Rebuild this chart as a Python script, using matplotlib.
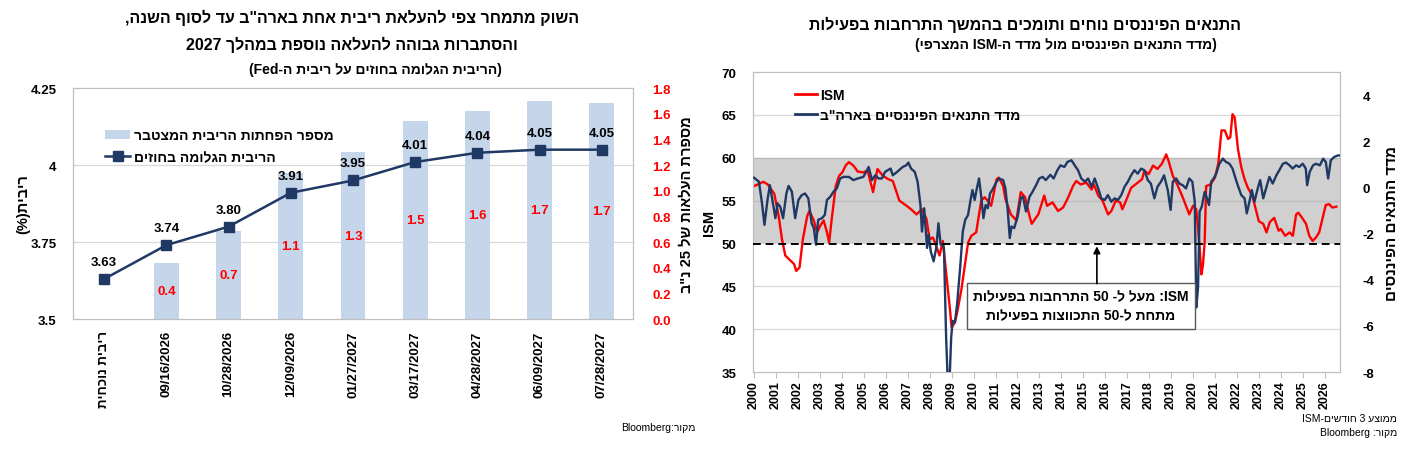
import re
import matplotlib
matplotlib.use('Agg')
import matplotlib.pyplot as plt
from matplotlib.patches import Patch
from matplotlib.lines import Line2D
from matplotlib.transforms import blended_transform_factory

plt.rcParams['font.family'] = ['DejaVu Sans Condensed', 'Liberation Sans', 'DejaVu Sans']
plt.rcParams['font.weight'] = 'bold'
plt.rcParams['axes.unicode_minus'] = False


# hebrew -> visual order (matplotlib has no bidi)
def rtl(s):
    v = s[::-1].translate(str.maketrans('()', ')('))
    return re.sub(r'[A-Za-z0-9.%]+', lambda m: m.group(0)[::-1], v)


# ---- left chart data ----
categories = ['ריבית נוכחית', '09/16/2026', '10/28/2026', '12/09/2026', '01/27/2027',
              '03/17/2027', '04/28/2027', '06/09/2027', '07/28/2027']
implied_rate = [3.63, 3.74, 3.80, 3.91, 3.95, 4.01, 4.04, 4.05, 4.05]
hikes = [0.44, 0.69, 1.14, 1.30, 1.54, 1.62, 1.70, 1.68]   # from 09/16/2026 on

# ---- right chart data (decimal years) ----
ism_t = [2000.0, 2000.42, 2000.62, 2000.92, 2001.12, 2001.27, 2001.42, 2001.62, 2001.82, 2001.92,
         2002.07, 2002.22, 2002.42, 2002.52, 2002.72, 2002.87, 2003.02, 2003.17, 2003.32, 2003.42,
         2003.52, 2003.72, 2003.87, 2004.02, 2004.17, 2004.32, 2004.52, 2004.72, 2004.97, 2005.17,
         2005.42, 2005.62, 2005.87, 2006.12, 2006.32, 2006.62, 2006.95, 2007.15, 2007.4, 2007.65,
         2007.85, 2008.0, 2008.15, 2008.3, 2008.45, 2008.6, 2008.75, 2008.91, 2009.0, 2009.15,
         2009.25, 2009.45, 2009.6, 2009.75, 2009.9, 2010.12, 2010.35, 2010.5, 2010.65, 2010.8,
         2011.05, 2011.15, 2011.35, 2011.45, 2011.7, 2011.95, 2012.15, 2012.35, 2012.55, 2012.65,
         2012.95, 2013.22, 2013.35, 2013.6, 2013.85, 2014.08, 2014.28, 2014.53, 2014.68, 2014.88,
         2015.14, 2015.38, 2015.48, 2015.68, 2015.88, 2016.13, 2016.28, 2016.48, 2016.68, 2016.78,
         2016.98, 2017.18, 2017.38, 2017.68, 2017.78, 2017.98, 2018.18, 2018.38, 2018.58, 2018.78,
         2018.88, 2019.08, 2019.28, 2019.53, 2019.68, 2019.83, 2020.0, 2020.15, 2020.3, 2020.38,
         2020.45, 2020.53, 2020.6, 2020.8, 2021.0, 2021.15, 2021.3, 2021.45, 2021.6, 2021.7,
         2021.8, 2021.9, 2022.05, 2022.2, 2022.35, 2022.5, 2022.7, 2022.9, 2023.0, 2023.2,
         2023.35, 2023.5, 2023.7, 2023.9, 2024.0, 2024.2, 2024.4, 2024.55, 2024.7, 2024.8,
         2025.0, 2025.15, 2025.3, 2025.45, 2025.6, 2025.75, 2025.9, 2026.05, 2026.2, 2026.35,
         2026.53]
ism_v = [56.7, 57.2, 56.9, 55.8, 53.2, 50.5, 48.6, 48.1, 47.6, 46.8,
         47.2, 50.5, 53.2, 53.8, 52.7, 51.3, 52.1, 52.7, 51.3, 50.1,
         52.5, 56.7, 57.9, 58.3, 59.1, 59.5, 59.1, 58.4, 58.3, 58.5,
         56.0, 58.7, 57.9, 57.5, 57.3, 55.0, 54.4, 54.0, 53.4, 54.0,
         52.9, 50.5, 50.7, 49.7, 48.6, 50.3, 46.6, 42.7, 40.2, 40.8,
         41.9, 44.7, 47.4, 50.1, 50.9, 51.3, 55.0, 55.4, 55.0, 54.4,
         57.5, 57.7, 56.7, 55.2, 53.4, 52.7, 56.0, 55.4, 53.2, 52.3,
         53.4, 55.6, 54.4, 54.8, 53.8, 54.2, 55.2, 56.7, 57.3, 56.9,
         57.1, 56.3, 56.9, 55.6, 55.0, 53.4, 53.8, 55.0, 54.8, 54.0,
         55.2, 56.5, 56.9, 57.5, 58.5, 58.1, 59.1, 58.7, 59.3, 60.4,
         59.7, 57.9, 56.9, 55.4, 54.4, 53.4, 54.4, 54.0, 49.7, 46.4,
         47.4, 50.1, 56.7, 56.9, 57.7, 59.3, 63.2, 63.2, 62.2, 62.4,
         65.1, 64.7, 61.0, 58.9, 57.5, 56.5, 55.6, 53.6, 52.6, 52.3,
         51.3, 52.5, 53.0, 51.5, 51.7, 50.9, 51.3, 50.9, 53.4, 53.6,
         52.9, 52.3, 50.9, 50.3, 50.7, 51.3, 52.9, 54.5, 54.6, 54.2,
         54.3]

fci_t = [2000.0, 2000.22, 2000.37, 2000.47, 2000.62, 2000.72, 2000.82, 2000.97, 2001.07, 2001.19,
         2001.32, 2001.47, 2001.57, 2001.72, 2001.87, 2002.02, 2002.17, 2002.32, 2002.47, 2002.62,
         2002.72, 2002.82, 2002.92, 2003.09, 2003.22, 2003.32, 2003.47, 2003.62, 2003.77, 2003.92,
         2004.07, 2004.32, 2004.52, 2004.72, 2004.98, 2005.22, 2005.37, 2005.52, 2005.67, 2005.82,
         2005.97, 2006.22, 2006.32, 2006.52, 2006.77, 2006.93, 2007.03, 2007.15, 2007.32, 2007.45,
         2007.58, 2007.65, 2007.75, 2007.88, 2007.95, 2008.05, 2008.18, 2008.3, 2008.4, 2008.5,
         2008.6, 2008.65, 2008.75, 2008.82, 2008.91, 2008.98, 2009.05, 2009.15, 2009.25, 2009.4,
         2009.51, 2009.62, 2009.75, 2009.85, 2009.95, 2010.05, 2010.15, 2010.25, 2010.35, 2010.45,
         2010.55, 2010.65, 2010.75, 2010.85, 2011.05, 2011.15, 2011.35, 2011.45, 2011.55, 2011.65,
         2011.73, 2011.85, 2012.01, 2012.15, 2012.25, 2012.39, 2012.55, 2012.69, 2012.85, 2012.99,
         2013.15, 2013.29, 2013.5, 2013.65, 2013.82, 2013.96, 2014.14, 2014.28, 2014.46, 2014.61,
         2014.76, 2014.91, 2015.08, 2015.22, 2015.38, 2015.52, 2015.68, 2015.82, 2015.98, 2016.12,
         2016.28, 2016.43, 2016.58, 2016.73, 2016.88, 2017.03, 2017.18, 2017.33, 2017.48, 2017.64,
         2017.78, 2017.94, 2018.08, 2018.24, 2018.38, 2018.54, 2018.68, 2018.85, 2018.98, 2019.08,
         2019.23, 2019.38, 2019.53, 2019.68, 2019.83, 2019.97, 2020.08, 2020.15, 2020.23, 2020.3,
         2020.4, 2020.53, 2020.64, 2020.73, 2020.83, 2020.94, 2021.06, 2021.2, 2021.36, 2021.5,
         2021.66, 2021.8, 2021.94, 2022.04, 2022.2, 2022.35, 2022.45, 2022.57, 2022.68, 2022.8,
         2022.95, 2023.06, 2023.2, 2023.33, 2023.48, 2023.63, 2023.8, 2023.93, 2024.1, 2024.24,
         2024.4, 2024.54, 2024.7, 2024.84, 2025.0, 2025.14, 2025.2, 2025.32, 2025.47, 2025.6,
         2025.78, 2025.93, 2026.05, 2026.16, 2026.28, 2026.43, 2026.6, 2026.68]
fci_v = [0.42, 0.25, -0.76, -1.62, -0.47, 0.10, -0.47, -1.33, -0.69, -0.83,
         -1.33, -0.26, 0.07, -0.18, -1.33, -0.54, -0.33, -0.26, -0.47, -1.55,
         -1.76, -2.48, -1.40, -1.33, -1.19, -0.54, -0.40, -0.18, -0.04, 0.39,
         0.46, 0.46, 0.32, 0.39, 0.46, 0.89, 0.32, 0.53, 0.39, 0.39,
         0.68, 0.82, 0.53, 0.68, 0.89, 0.96, 1.08, 0.82, 0.68, 0.25,
         -0.76, -1.91, -0.90, -2.62, -2.05, -2.77, -3.20, -2.62, -1.55, -2.48,
         -2.48, -2.62, -6.5, -8.3, -8.3, -6.5, -5.78, -5.85, -5.06, -3.34,
         -1.91, -1.40, -1.19, -0.61, -0.11, -0.54, -0.04, 0.39, -0.40, -1.33,
         -0.76, -0.90, -0.26, -0.11, 0.25, 0.39, 0.32, -0.04, -0.90, -2.19,
         -1.69, -1.76, -1.26, -0.47, -0.40, -1.04, -0.40, -0.18, 0.10, 0.39,
         0.46, 0.32, 0.55, 0.39, 0.75, 0.96, 0.89, 1.11, 1.18, 0.96,
         0.75, 0.39, 0.25, 0.39, 0.03, 0.39, -0.04, -0.47, -0.54, -0.33,
         -0.62, -0.47, -0.54, -0.33, 0.03, 0.25, 0.53, 0.75, 0.60, 0.82,
         0.75, 0.32, 0.17, -0.47, 0.03, 0.25, 0.53, -0.11, -0.97, 0.25,
         0.39, 0.17, 0.10, -0.04, 0.39, 0.25, -0.62, -5.2, -4.34, -1.05,
         -0.83, -0.19, -0.47, -0.76, 0.25, 0.39, 0.60, 1.03, 1.25, 1.11,
         1.03, 0.82, 0.39, 0.10, -0.33, -0.47, -1.12, -0.62, -0.11, -0.62,
         -0.04, 0.32, -0.47, -0.04, 0.46, 0.17, 0.53, 0.75, 1.03, 1.08,
         0.96, 0.82, 0.96, 0.89, 1.03, 0.82, 0.10, 0.68, 0.96, 1.03,
         0.96, 1.25, 1.11, 0.39, 1.18, 1.32, 1.39, 1.39]

years = list(range(2000, 2027))

BAR_C = '#c5d5ea'
NAVY = '#1f3864'
RED = '#ff0000'
GRID = '#d9d9d9'
SPINE = '#bfbfbf'

fig = plt.figure(figsize=(14.02, 4.6), dpi=100)

# ================= left chart =================
ax = fig.add_axes([0.0521, 0.3043, 0.3994, 0.502])
ax2 = ax.twinx()
ax.set_zorder(ax2.get_zorder() + 1)
ax.patch.set_visible(False)

# gridlines (rate axis) drawn behind the bars
for g in [3.75, 4.0]:
    ax2.add_line(Line2D([0, 1], [g, g], transform=blended_transform_factory(ax2.transAxes, ax.transData),
                        color=GRID, lw=0.9, zorder=0))

xs = list(range(len(categories)))
bars = ax2.bar(xs[1:], hikes, width=0.4, color=BAR_C, zorder=2)
ax2.bar_label(bars, labels=['%.1f' % h for h in hikes], label_type='center',
              color=RED, fontsize=9.5, fontweight='bold')
ax2.set_ylim(0, 1.8)
ax2.set_yticks([i / 5 for i in range(10)])
ax2.set_yticklabels(['%.1f' % (i / 5) for i in range(10)], color=RED, fontsize=9.5, fontweight='bold')
ax2.tick_params(axis='y', length=0, pad=14)
ax2.set_ylabel(rtl('מספרת העלאות של 25 נ"ב'), rotation=90, fontsize=10.5, fontweight='bold', labelpad=6)

ax.plot(xs, implied_rate, color=NAVY, lw=1.8, marker='s', ms=6.5, zorder=5)
for x, v in zip(xs, implied_rate):
    ax.annotate('%.2f' % v, (x, v), xytext=(0, 8), textcoords='offset points',
                ha='center', va='bottom', fontsize=9.5, fontweight='bold')
ax.set_ylim(3.5, 4.25)
ax.set_yticks([3.5, 3.75, 4.0, 4.25])
ax.set_yticklabels(['3.5', '3.75', '4', '4.25'], fontsize=9.5, fontweight='bold')
ax.tick_params(axis='y', length=0, pad=12)
ax.set_xlim(-0.5, 8.5)
ax.set_xticks(xs)
ax.set_xticklabels([rtl(categories[0])] + categories[1:], rotation=90, fontsize=9.5, fontweight='bold')
ax.tick_params(axis='x', length=0, pad=8)
ax.set_ylabel(rtl('ריבית(%)'), fontsize=10.5, fontweight='bold', labelpad=0)
for a in (ax, ax2):
    for s in a.spines.values():
        s.set_color(SPINE)

h1 = Patch(facecolor=BAR_C, edgecolor='none')
h2 = Line2D([], [], color=NAVY, lw=1.8, marker='s', ms=6.5)
ax.legend([h1, h2], [rtl('מספר הפחתות הריבית המצטבר'), rtl('הריבית הגלומה בחוזים')],
          loc='upper left', bbox_to_anchor=(0.035, 0.88), frameon=False, fontsize=10,
          handlelength=1.8, labelspacing=0.55, handletextpad=0.3)

fig.text(0.251, 0.961, rtl('השוק מתמחר צפי להעלאת ריבית אחת בארה"ב עד לסוף השנה,'),
         ha='center', va='center', fontsize=11.5, fontweight='bold')
fig.text(0.251, 0.902, rtl('והסתברות גבוהה להעלאה נוספת במהלך 2027'),
         ha='center', va='center', fontsize=11.5, fontweight='bold')
fig.text(0.2675, 0.848, rtl('(הריבית הגלומה בחוזים על ריבית ה-Fed)'),
         ha='center', va='center', fontsize=10, fontweight='bold')
fig.text(0.496, 0.07, rtl('מקור:Bloomberg'), ha='right', va='center', fontsize=7.5, fontweight='normal')

# ================= right chart =================
bx = fig.add_axes([0.5371, 0.189, 0.4187, 0.652])
bx2 = bx.twinx()

bx.axhspan(50, 60, color='#d0d0d0', zorder=0, lw=0)
for g in [40, 45, 55, 65]:
    bx.axhline(g, color=GRID if g != 55 else '#bdbdbd', lw=0.9, zorder=0.5)
bx.axhline(60, color='#b8b8b8', lw=1.0, zorder=0.5)

bx.plot(ism_t, ism_v, color=RED, lw=1.7, zorder=2)
bx.set_ylim(35, 70)
bx.set_yticks(range(35, 71, 5))
bx.set_yticklabels([str(v) for v in range(35, 71, 5)], fontsize=9.5, fontweight='bold')
bx.tick_params(axis='y', length=0, pad=12)
bx.set_ylabel('ISM', fontsize=10.5, fontweight='bold', labelpad=4)
bx.set_xlim(1999.95, 2026.7)
bx.set_xticks(years)
bx.set_xticklabels([str(y) for y in years], rotation=90, fontsize=9, fontweight='bold')
bx.tick_params(axis='x', length=4, color=SPINE, pad=2)

bx2.plot(fci_t, fci_v, color=NAVY, lw=1.7, zorder=3)
bx2.set_ylim(-8, 5)
bx2.set_yticks([-8, -6, -4, -2, 0, 2, 4])
bx2.set_yticklabels(['-8', '-6', '-4', '-2', '0', '2', '4'], fontsize=9.5, fontweight='bold')
bx2.tick_params(axis='y', length=0, pad=16)
bx2.set_ylabel(rtl('מדד התנאים הפיננסים'), rotation=90, fontsize=11, fontweight='bold', labelpad=8)
for a in (bx, bx2):
    for s in a.spines.values():
        s.set_color(SPINE)

# 50 line, note box and arrow sit on top of both series (ISM coordinates)
ism_tr = bx.transData
bx2.add_line(Line2D([0, 1], [50, 50], transform=blended_transform_factory(bx2.transAxes, ism_tr),
                    color='black', lw=1.4, ls=(0, (4, 2.5)), zorder=4))
bx2.text(2014.9, 42.7, rtl('ISM: מעל ל- 50 התרחבות בפעילות') + '\n' + rtl('מתחת ל-50 התכווצות בפעילות'),
         transform=ism_tr, ha='center', va='center', fontsize=10, fontweight='bold',
         linespacing=1.45, zorder=6,
         bbox=dict(boxstyle='square,pad=0.45', fc='white', ec='#595959', lw=1))
bx2.annotate('', xy=(2015.62, 50), xytext=(2015.62, 45.0), xycoords=ism_tr, textcoords=ism_tr,
             arrowprops=dict(arrowstyle='-|>', color='black', lw=1.2, mutation_scale=10), zorder=6)

bx2.legend([Line2D([], [], color=RED, lw=2), Line2D([], [], color=NAVY, lw=2)],
           ['ISM', rtl('מדד התנאים הפיננסיים בארה"ב')],
           loc='upper left', bbox_to_anchor=(0.05, 0.99), frameon=False, fontsize=10,
           handlelength=1.6, labelspacing=0.45, handletextpad=0.2)

fig.text(0.731, 0.946, rtl('התנאים הפיננסים נוחים ותומכים בהמשך התרחבות בפעילות'),
         ha='center', va='center', fontsize=11.5, fontweight='bold')
fig.text(0.760, 0.902, rtl('(מדד התנאים הפיננסים מול מדד ה-ISM המצרפי)'),
         ha='center', va='center', fontsize=10, fontweight='bold')
fig.text(0.9965, 0.089, rtl('ממוצע 3 חודשים-ISM'), ha='right', va='center', fontsize=7.5, fontweight='normal')
fig.text(0.9965, 0.059, rtl('מקור: Bloomberg'), ha='right', va='center', fontsize=7.5, fontweight='normal')

fig.savefig('out.png', dpi=100)
